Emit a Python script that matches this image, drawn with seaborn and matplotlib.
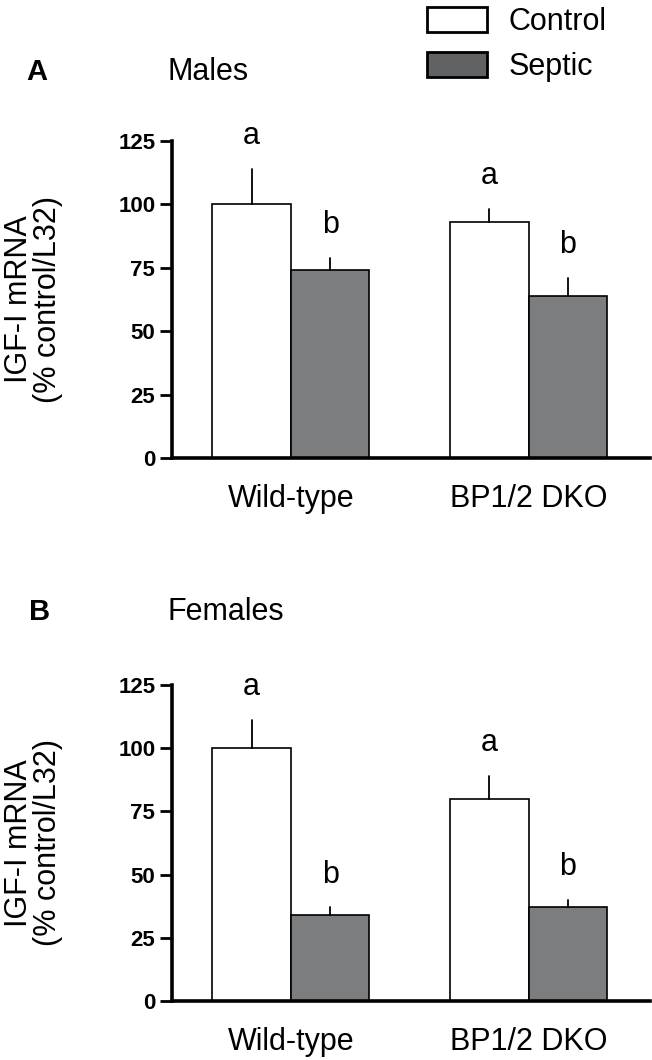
import numpy as np
import pandas as pd
import seaborn as sns
import matplotlib.pyplot as plt
from matplotlib.patches import Patch

genotypes = ["Wild-type", "BP1/2 DKO"]
groups = ["Control", "Septic"]

# males: mean and SEM (percent control / L32)
males_mean = {"Control": [100, 93], "Septic": [74, 64]}
males_sem = {"Control": [14, 5], "Septic": [5, 7]}
males_letters = {"Control": ["a", "a"], "Septic": ["b", "b"]}

# females
females_mean = {"Control": [100, 80], "Septic": [34, 37]}
females_sem = {"Control": [11, 9], "Septic": [3, 3]}
females_letters = {"Control": ["a", "a"], "Septic": ["b", "b"]}

panel_tags = ["A", "B"]
panel_titles = ["Males", "Females"]

sns.set_theme(style="ticks")
plt.rcParams["font.family"] = ["Liberation Sans", "DejaVu Sans"]
plt.rcParams.update({"text.color": "black", "axes.labelcolor": "black",
                     "axes.edgecolor": "black", "xtick.color": "black",
                     "ytick.color": "black"})

bar_colors = {"Control": "#ffffff", "Septic": "#7b7d7f"}
legend_colors = {"Control": "#ffffff", "Septic": "#606264"}


def make_df(means):
    rows = []
    for g in groups:
        for i, gt in enumerate(genotypes):
            rows.append({"genotype": gt, "group": g, "value": means[g][i]})
    return pd.DataFrame(rows)


def draw_panel(ax, means, sems, letters):
    df = make_df(means)
    sns.barplot(data=df, x="genotype", y="value", hue="group", order=genotypes,
                hue_order=groups, palette=bar_colors, edgecolor="black",
                linewidth=1.2, width=0.66, errorbar=None, legend=False, ax=ax)
    for g, cont in zip(groups, ax.containers):
        for i, bar in enumerate(cont):
            xc = bar.get_x() + bar.get_width() / 2
            top = means[g][i] + sems[g][i]
            ax.plot([xc, xc], [means[g][i], top], color="black", lw=1.3, zorder=1)
            ax.text(xc, top + 13, letters[g][i], ha="center", va="center",
                    fontsize=22, clip_on=False)
    ax.set_ylim(0, 125)
    ax.set_xlim(-0.5, 1.51)
    ax.set_yticks([0, 25, 50, 75, 100, 125])
    ax.set_xlabel("")
    ax.set_ylabel("IGF-I mRNA\n(% control/L32)", fontsize=22, linespacing=0.92)
    ax.yaxis.set_label_coords(-0.229, 0.5)
    for s in ["top", "right"]:
        ax.spines[s].set_visible(False)
    for s in ["left", "bottom"]:
        ax.spines[s].set_linewidth(2.6)
    ax.tick_params(axis="y", length=9, width=2, pad=3, labelsize=16)
    ax.tick_params(axis="x", length=0, pad=19, labelsize=22)
    for lab in ax.get_yticklabels():
        lab.set_fontweight("bold")


fig = plt.figure(figsize=(6.52, 10.6), dpi=100)
ax1 = fig.add_axes([0.2638, 0.5679, 0.733, 0.2991])
ax2 = fig.add_axes([0.2638, 0.0557, 0.733, 0.2981])

draw_panel(ax1, males_mean, males_sem, males_letters)
draw_panel(ax2, females_mean, females_sem, females_letters)

fig.text(37 / 652, 1 - 72 / 1060, panel_tags[0], fontsize=21, fontweight="bold",
         ha="center", va="center")
fig.text(168 / 652, 1 - 72 / 1060, panel_titles[0], fontsize=22, ha="left", va="center")
fig.text(40 / 652, 1 - 612 / 1060, panel_tags[1], fontsize=21, fontweight="bold",
         ha="center", va="center")
fig.text(168 / 652, 1 - 612 / 1060, panel_titles[1], fontsize=22, ha="left", va="center")

handles = [Patch(facecolor=legend_colors[g], edgecolor="black", linewidth=2) for g in groups]
fig.legend(handles, groups, loc="upper left", bbox_to_anchor=(415 / 652, 1.005),
           frameon=False, fontsize=22, handlelength=1.95, handleheight=0.85,
           handletextpad=0.7, labelspacing=0.5, borderaxespad=0.0)

fig.savefig("out.png", dpi=100, facecolor="white")
